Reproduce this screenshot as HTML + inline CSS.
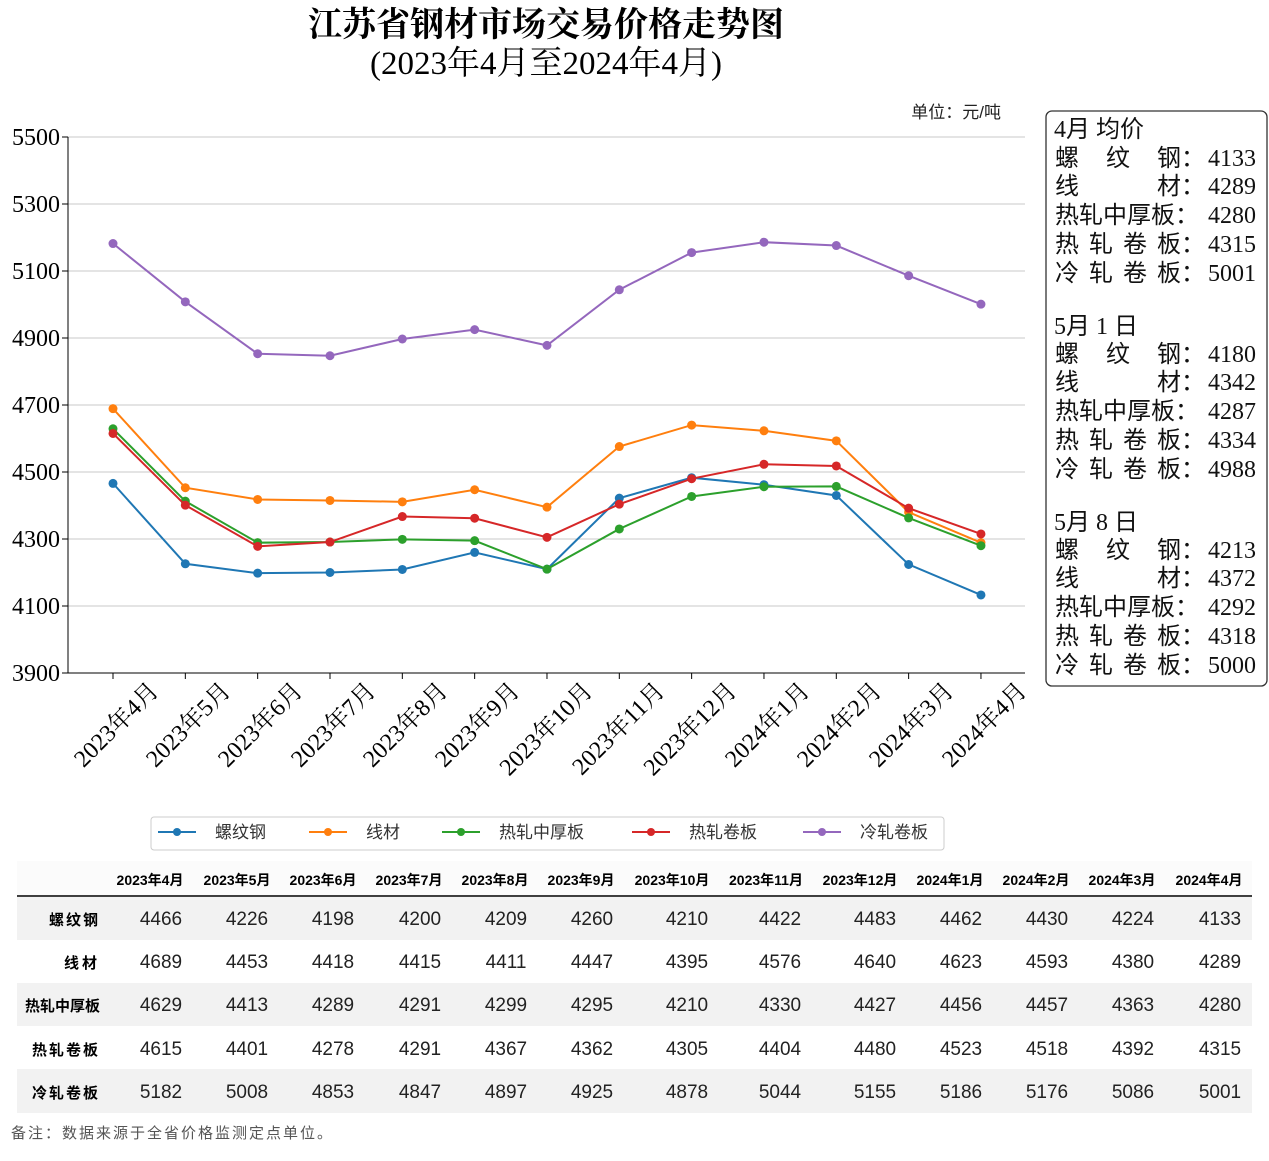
<!DOCTYPE html>
<html><head><meta charset="utf-8"><style>
body{margin:0;background:#fff;}
svg{display:block;}
.s{font-family:"Liberation Serif","Noto Serif CJK SC",serif;}
.b{font-family:"Liberation Sans","Noto Sans CJK SC",sans-serif;}
.box text{font-family:"Liberation Serif","Noto Sans CJK SC",serif;font-size:24px;fill:#111;}
</style></head><body>
<svg id="c" width="1269" height="1161" xmlns="http://www.w3.org/2000/svg">
<rect width="1269" height="1161" fill="#fff"/>
<text class="s" x="546" y="36" text-anchor="middle" font-size="34" font-weight="bold">江苏省钢材市场交易价格走势图</text>
<text class="s" x="546" y="74" text-anchor="middle" font-size="33">(2023年4月至2024年4月)</text>
<text x="1001" y="118" text-anchor="end" font-size="17" font-family="Liberation Sans,Noto Sans CJK SC,sans-serif" fill="#222">单位：元/吨</text>
<g stroke="#c8c8c8" stroke-width="1">
<line x1="68" x2="1025" y1="137" y2="137"/><line x1="68" x2="1025" y1="204" y2="204"/>
<line x1="68" x2="1025" y1="271" y2="271"/><line x1="68" x2="1025" y1="338" y2="338"/>
<line x1="68" x2="1025" y1="405" y2="405"/><line x1="68" x2="1025" y1="472" y2="472"/>
<line x1="68" x2="1025" y1="539" y2="539"/><line x1="68" x2="1025" y1="606" y2="606"/>
</g>
<line x1="68" x2="68" y1="137" y2="673" stroke="#000"/>
<line x1="68" x2="1025" y1="673" y2="673" stroke="#000"/>
<g class="s" font-size="24" text-anchor="end">
<text x="60" y="145">5500</text><text x="60" y="212">5300</text><text x="60" y="279">5100</text>
<text x="60" y="346">4900</text><text x="60" y="413">4700</text><text x="60" y="480">4500</text>
<text x="60" y="547">4300</text><text x="60" y="614">4100</text><text x="60" y="681">3900</text>
</g>
<g stroke="#000"><line x1="62" x2="68" y1="137" y2="137"/><line x1="62" x2="68" y1="204" y2="204"/><line x1="62" x2="68" y1="271" y2="271"/><line x1="62" x2="68" y1="338" y2="338"/><line x1="62" x2="68" y1="405" y2="405"/><line x1="62" x2="68" y1="472" y2="472"/><line x1="62" x2="68" y1="539" y2="539"/><line x1="62" x2="68" y1="606" y2="606"/><line x1="62" x2="68" y1="673" y2="673"/></g>
<g id="ticks" stroke="#000"></g>
<g class="s" font-size="24" text-anchor="end">
<text transform="translate(160,692) rotate(-45)">2023年4月</text>
<text transform="translate(232,692) rotate(-45)">2023年5月</text>
<text transform="translate(304,692) rotate(-45)">2023年6月</text>
<text transform="translate(377,692) rotate(-45)">2023年7月</text>
<text transform="translate(449,692) rotate(-45)">2023年8月</text>
<text transform="translate(521,692) rotate(-45)">2023年9月</text>
<text transform="translate(594,692) rotate(-45)">2023年10月</text>
<text transform="translate(666,692) rotate(-45)">2023年11月</text>
<text transform="translate(738,692) rotate(-45)">2023年12月</text>
<text transform="translate(811,692) rotate(-45)">2024年1月</text>
<text transform="translate(883,692) rotate(-45)">2024年2月</text>
<text transform="translate(955,692) rotate(-45)">2024年3月</text>
<text transform="translate(1028,692) rotate(-45)">2024年4月</text>
</g>
<g id="series"></g>
<g class="box">
<rect x="1046" y="111" width="221" height="575" rx="6" fill="#fff" stroke="#333" stroke-width="1.3"/>
<text x="1054" y="137">4月 均价</text>
<text x="1055" y="166">螺</text><text x="1106" y="166">纹</text><text x="1157" y="166">钢：</text><text x="1208" y="166">4133</text>
<text x="1055" y="194">线</text><text x="1157" y="194">材：</text><text x="1208" y="194">4289</text>
<text x="1055" y="223">热轧中厚板：</text><text x="1208" y="223">4280</text>
<text x="1055" y="252">热</text><text x="1089" y="252">轧</text><text x="1123" y="252">卷</text><text x="1157" y="252">板：</text><text x="1208" y="252">4315</text>
<text x="1055" y="281">冷</text><text x="1089" y="281">轧</text><text x="1123" y="281">卷</text><text x="1157" y="281">板：</text><text x="1208" y="281">5001</text>
<text x="1054" y="334">5月 1 日</text>
<text x="1055" y="362">螺</text><text x="1106" y="362">纹</text><text x="1157" y="362">钢：</text><text x="1208" y="362">4180</text>
<text x="1055" y="390">线</text><text x="1157" y="390">材：</text><text x="1208" y="390">4342</text>
<text x="1055" y="419">热轧中厚板：</text><text x="1208" y="419">4287</text>
<text x="1055" y="448">热</text><text x="1089" y="448">轧</text><text x="1123" y="448">卷</text><text x="1157" y="448">板：</text><text x="1208" y="448">4334</text>
<text x="1055" y="477">冷</text><text x="1089" y="477">轧</text><text x="1123" y="477">卷</text><text x="1157" y="477">板：</text><text x="1208" y="477">4988</text>
<text x="1054" y="530">5月 8 日</text>
<text x="1055" y="558">螺</text><text x="1106" y="558">纹</text><text x="1157" y="558">钢：</text><text x="1208" y="558">4213</text>
<text x="1055" y="586">线</text><text x="1157" y="586">材：</text><text x="1208" y="586">4372</text>
<text x="1055" y="615">热轧中厚板：</text><text x="1208" y="615">4292</text>
<text x="1055" y="644">热</text><text x="1089" y="644">轧</text><text x="1123" y="644">卷</text><text x="1157" y="644">板：</text><text x="1208" y="644">4318</text>
<text x="1055" y="673">冷</text><text x="1089" y="673">轧</text><text x="1123" y="673">卷</text><text x="1157" y="673">板：</text><text x="1208" y="673">5000</text>
</g>
<rect x="151" y="817" width="793" height="33" fill="#fff" stroke="#ccc" rx="3"/>
<g stroke-width="2">
<line x1="158" x2="196" y1="832" y2="832" stroke="#1f77b4"/><circle cx="177" cy="832" r="4" fill="#1f77b4"/>
<line x1="309" x2="347" y1="832" y2="832" stroke="#ff7f0e"/><circle cx="328" cy="832" r="4" fill="#ff7f0e"/>
<line x1="442" x2="480" y1="832" y2="832" stroke="#2ca02c"/><circle cx="461" cy="832" r="4" fill="#2ca02c"/>
<line x1="632" x2="670" y1="832" y2="832" stroke="#d62728"/><circle cx="651" cy="832" r="4" fill="#d62728"/>
<line x1="803" x2="841" y1="832" y2="832" stroke="#9467bd"/><circle cx="822" cy="832" r="4" fill="#9467bd"/>
</g>
<g font-size="17" fill="#333" font-family="Liberation Sans,Noto Sans CJK SC,sans-serif">
<text x="215" y="838">螺纹钢</text><text x="366" y="838">线材</text><text x="499" y="838">热轧中厚板</text><text x="689" y="838">热轧卷板</text><text x="860" y="838">冷轧卷板</text>
</g>
<rect x="17" y="861" width="1235" height="35" fill="#fbfbfb"/>
<rect x="17" y="897" width="1235" height="43" fill="#f2f2f2"/>
<rect x="17" y="983" width="1235" height="43" fill="#f2f2f2"/>
<rect x="17" y="1069" width="1235" height="44" fill="#f2f2f2"/>
<line x1="17" x2="1252" y1="896" y2="896" stroke="#000" stroke-width="1.5"/>
<g class="b" font-size="14" font-weight="bold" text-anchor="middle">
<text x="150" y="885">2023年4月</text><text x="237" y="885">2023年5月</text><text x="323" y="885">2023年6月</text><text x="409" y="885">2023年7月</text><text x="495" y="885">2023年8月</text><text x="581" y="885">2023年9月</text><text x="672" y="885">2023年10月</text><text x="766" y="885">2023年11月</text><text x="860" y="885">2023年12月</text><text x="950" y="885">2024年1月</text><text x="1036" y="885">2024年2月</text><text x="1122" y="885">2024年3月</text><text x="1209" y="885">2024年4月</text>
</g>
<g class="b" font-size="15" font-weight="bold" text-anchor="end">
<text x="100" y="925" letter-spacing="2">螺纹钢</text><text x="100" y="968" letter-spacing="3">线材</text><text x="100" y="1011">热轧中厚板</text><text x="100" y="1055" letter-spacing="2">热轧卷板</text><text x="100" y="1098" letter-spacing="2">冷轧卷板</text>
</g>
<g class="b" font-size="19" fill="#222" text-anchor="middle">
<text y="925"><tspan x="161">4466</tspan><tspan x="247">4226</tspan><tspan x="333">4198</tspan><tspan x="420">4200</tspan><tspan x="506">4209</tspan><tspan x="592">4260</tspan><tspan x="687">4210</tspan><tspan x="780">4422</tspan><tspan x="875">4483</tspan><tspan x="961">4462</tspan><tspan x="1047">4430</tspan><tspan x="1133">4224</tspan><tspan x="1220">4133</tspan></text>
<text y="968"><tspan x="161">4689</tspan><tspan x="247">4453</tspan><tspan x="333">4418</tspan><tspan x="420">4415</tspan><tspan x="506">4411</tspan><tspan x="592">4447</tspan><tspan x="687">4395</tspan><tspan x="780">4576</tspan><tspan x="875">4640</tspan><tspan x="961">4623</tspan><tspan x="1047">4593</tspan><tspan x="1133">4380</tspan><tspan x="1220">4289</tspan></text>
<text y="1011"><tspan x="161">4629</tspan><tspan x="247">4413</tspan><tspan x="333">4289</tspan><tspan x="420">4291</tspan><tspan x="506">4299</tspan><tspan x="592">4295</tspan><tspan x="687">4210</tspan><tspan x="780">4330</tspan><tspan x="875">4427</tspan><tspan x="961">4456</tspan><tspan x="1047">4457</tspan><tspan x="1133">4363</tspan><tspan x="1220">4280</tspan></text>
<text y="1055"><tspan x="161">4615</tspan><tspan x="247">4401</tspan><tspan x="333">4278</tspan><tspan x="420">4291</tspan><tspan x="506">4367</tspan><tspan x="592">4362</tspan><tspan x="687">4305</tspan><tspan x="780">4404</tspan><tspan x="875">4480</tspan><tspan x="961">4523</tspan><tspan x="1047">4518</tspan><tspan x="1133">4392</tspan><tspan x="1220">4315</tspan></text>
<text y="1098"><tspan x="161">5182</tspan><tspan x="247">5008</tspan><tspan x="333">4853</tspan><tspan x="420">4847</tspan><tspan x="506">4897</tspan><tspan x="592">4925</tspan><tspan x="687">4878</tspan><tspan x="780">5044</tspan><tspan x="875">5155</tspan><tspan x="961">5186</tspan><tspan x="1047">5176</tspan><tspan x="1133">5086</tspan><tspan x="1220">5001</tspan></text>
</g>
<text x="11" y="1138" font-size="15" fill="#555" font-family="Liberation Sans,Noto Sans CJK SC,sans-serif" letter-spacing="2">备注：数据来源于全省价格监测定点单位。</text>
</svg>
<script>
var D={"#1f77b4":[4466,4226,4198,4200,4209,4260,4210,4422,4483,4462,4430,4224,4133],
"#ff7f0e":[4689,4453,4418,4415,4411,4447,4395,4576,4640,4623,4593,4380,4289],
"#2ca02c":[4629,4413,4289,4291,4299,4295,4210,4330,4427,4456,4457,4363,4280],
"#d62728":[4615,4401,4278,4291,4367,4362,4305,4404,4480,4523,4518,4392,4315],
"#9467bd":[5182,5008,4853,4847,4897,4925,4878,5044,5155,5186,5176,5086,5001]};
var ns="http://www.w3.org/2000/svg",g=document.getElementById("series"),t=document.getElementById("ticks");
function X(i){return 113+i*72.33}function Y(v){return 137+(5500-v)*0.335}
for(var i=0;i<13;i++){var l=document.createElementNS(ns,"line");l.setAttribute("x1",X(i));l.setAttribute("x2",X(i));l.setAttribute("y1",673);l.setAttribute("y2",679);t.appendChild(l);}
for(var c in D){var p=D[c].map(function(v,i){return X(i)+","+Y(v)}).join(" ");
var pl=document.createElementNS(ns,"polyline");pl.setAttribute("points",p);pl.setAttribute("fill","none");pl.setAttribute("stroke",c);pl.setAttribute("stroke-width","2");g.appendChild(pl);
D[c].forEach(function(v,i){var ci=document.createElementNS(ns,"circle");ci.setAttribute("cx",X(i));ci.setAttribute("cy",Y(v));ci.setAttribute("r",4.5);ci.setAttribute("fill",c);g.appendChild(ci);});}
</script>
</body></html>
